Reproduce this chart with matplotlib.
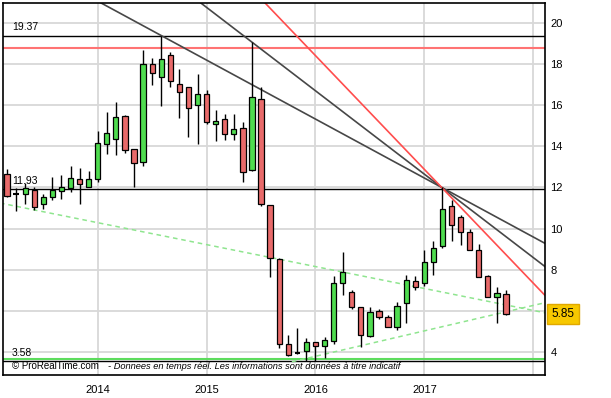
import matplotlib
matplotlib.use("Agg")
from matplotlib import pyplot as plt, transforms

plt.rcParams['font.family'] = ['Liberation Sans', 'DejaVu Sans']

# monthly candles, Mar 2013 .. Oct 2017 (index 10 = Jan 2014)
opens = [12.65, 11.68, 11.66, 11.87, 11.20, 11.51, 11.81, 11.95, 12.42, 12.00,
         12.39, 14.09, 14.34, 15.48, 13.84, 13.21, 17.97, 17.34, 18.42, 17.01,
         16.85, 15.98, 16.53, 15.06, 15.30, 14.57, 14.86, 12.84, 16.29, 11.13,
         8.50, 4.39, 3.97, 4.07, 4.48, 4.30, 4.54, 7.34, 6.90, 6.17,
         4.78, 5.99, 5.72, 5.23, 6.40, 7.45, 7.37, 8.39, 9.15, 11.09,
         10.57, 9.82, 8.96, 7.69, 6.69, 6.81]
highs = [12.89, 11.95, 12.19, 12.00, 11.66, 12.49, 12.60, 13.03, 12.94, 12.78,
         14.75, 15.64, 16.13, 15.50, 13.84, 18.68, 18.26, 19.37, 18.57, 17.73,
         16.85, 17.52, 16.72, 15.74, 15.54, 15.54, 15.16, 19.05, 16.85, 11.13,
         8.55, 4.84, 5.16, 4.70, 4.48, 4.75, 7.69, 8.84, 7.02, 6.20,
         6.20, 6.08, 5.80, 6.45, 7.74, 7.69, 8.96, 9.41, 12.00, 11.38,
         10.65, 10.00, 9.23, 7.75, 7.17, 7.01]
lows = [11.55, 10.86, 11.18, 10.90, 10.93, 11.38, 11.42, 11.79, 11.17, 12.00,
        12.27, 13.62, 13.57, 13.68, 12.03, 13.05, 16.97, 15.95, 16.85, 15.35,
        14.46, 14.10, 15.06, 14.25, 14.30, 14.30, 12.27, 12.80, 11.09, 7.66,
        4.19, 3.83, 3.92, 3.58, 3.58, 3.71, 4.39, 6.77, 6.08, 4.26,
        4.75, 5.60, 5.20, 5.07, 5.41, 7.01, 7.20, 7.74, 9.04, 9.41,
        9.20, 8.96, 7.66, 6.69, 5.43, 5.78]
closes = [11.58, 11.65, 11.95, 11.06, 11.51, 11.87, 12.00, 12.45, 12.15, 12.40,
          14.17, 14.62, 15.40, 13.81, 13.17, 17.97, 17.56, 18.23, 17.17, 16.61,
          15.83, 16.53, 15.19, 15.20, 14.57, 14.84, 12.76, 16.41, 11.17, 8.55,
          4.38, 3.87, 3.95, 4.48, 4.30, 4.57, 7.37, 7.87, 6.17, 4.83,
          5.96, 5.69, 5.23, 6.25, 7.49, 7.17, 8.37, 9.04, 10.93, 10.17,
          9.84, 8.96, 7.66, 6.69, 6.85, 5.85]

year_ticks = [10, 22, 34, 46, 58]
year_labels = ['2014', '2015', '2016', '2017', '']
price_ticks = [4, 6, 8, 10, 12, 14, 16, 18, 20]
price_labels = ['4', '', '8', '10', '12', '14', '16', '18', '20']  # 6 sits under the price box

level_high = 19.37
level_mid = 11.93
level_low = 3.58
level_red = 18.75
last_price = 5.85

# trend lines as (point, point) in (month index, price)
black_trends = [((17, 19.37), (47.9, 12.0)), ((27, 19.05), (47.9, 12.0))]
red_trend = ((28.45, 20.95), (47.9, 12.0))
dashed_supports = [((-0.77, 11.24), (59.3, 5.91)), ((31.4, 3.53), (59.3, 6.40))]

x_min, x_max = -0.44, 59.3
y_min, y_max = 2.89, 20.95

fig = plt.figure(figsize=(6.11, 3.98), dpi=100)
ax = fig.add_axes([3 / 611, 1 - 375 / 398, 542 / 611, 372 / 398])
ax.set_xlim(x_min, x_max)
ax.set_ylim(y_min, y_max)

# grid
for p in price_ticks:
    ax.axhline(p, color='#d8d8d8', lw=1.3, zorder=0)
for t in year_ticks:
    ax.axvline(t, color='#d8d8d8', lw=1.3, zorder=0)

# horizontal levels
ax.axhline(level_high, color='black', lw=1.0, zorder=2)
ax.axhline(level_red, color='#ff7373', lw=1.5, zorder=2)
ax.axhline(level_mid, color='black', lw=1.0, zorder=2)
ax.axhline(level_low + 0.08, color='#5ddc5d', lw=1.5, zorder=2)
ax.axhline(level_low - 0.03, color='black', lw=1.0, zorder=2)

# trend lines
for p1, p2 in black_trends:
    ax.axline(p1, p2, color='#474747', lw=1.2, zorder=2)
ax.axline(red_trend[0], red_trend[1], color='#ff4d4d', lw=1.2, zorder=2)
for (xa, ya), (xb, yb) in dashed_supports:
    slope = (yb - ya) / (xb - xa)
    ax.plot([xa, x_max], [ya, ya + slope * (x_max - xa)], color='#8fe58f',
            lw=1.1, dashes=(3, 2.5), zorder=2)

# candles
for i in range(len(opens)):
    o, h, l, c = opens[i], highs[i], lows[i], closes[i]
    ax.vlines(i, l, h, color='black', lw=1.0, zorder=3)
    if abs(c - o) < 0.05:
        ax.hlines(o, i - 0.3, i + 0.3, color='black', lw=1.5, zorder=4)
        continue
    col = '#4fdc4f' if c > o else '#e86a6a'
    ax.bar(i, abs(c - o), bottom=min(o, c), width=0.58, color=col,
           edgecolor='black', linewidth=0.9, zorder=4)

# level labels
for lvl in (level_high, level_mid, level_low):
    ax.text(0.55, lvl + 0.15, '%.2f' % lvl, fontsize=7.5, va='bottom', zorder=5)

# footer
ax.text(0.016, 0.024, '\u00a9 ProRealTime.com', transform=ax.transAxes,
        fontsize=7, va='center', zorder=5)
ax.text(0.193, 0.024, '- Donnees en temps r\u00e9el. Les informations sont donn\u00e9es \u00e0 titre indicatif',
        transform=ax.transAxes, fontsize=6.7, style='italic', va='center', zorder=5)

# axes
ax.yaxis.tick_right()
ax.set_yticks(price_ticks)
ax.set_yticklabels(price_labels)
ax.set_xticks(year_ticks)
ax.set_xticklabels(year_labels)
ax.tick_params(axis='both', length=0, labelsize=8)
ax.tick_params(axis='y', pad=4)
ax.tick_params(axis='x', pad=7)
for s in ax.spines.values():
    s.set_linewidth(1.2)

# last price box
trans = transforms.blended_transform_factory(ax.transAxes, ax.transData)
ax.text(1.012, last_price, '%.2f' % last_price, transform=trans, fontsize=8.5,
        va='center', ha='left', zorder=6,
        bbox=dict(boxstyle='square,pad=0.35', facecolor='#f7c800', edgecolor='#e0a800', lw=1))

fig.savefig('out.png', dpi=100)
